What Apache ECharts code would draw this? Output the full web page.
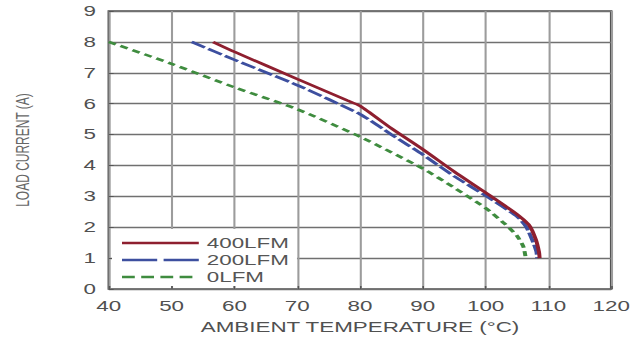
<!DOCTYPE html>
<html><head><meta charset="utf-8">
<script src="https://cdn.jsdelivr.net/npm/echarts/dist/echarts.min.js"></script>
<style>
html,body{margin:0;padding:0;background:#fff;overflow:hidden;width:640px;height:360px}
#c{width:400px;height:360px;transform:scaleX(1.6);transform-origin:0 0}
</style>
</head><body><div id="c"></div>
<script>
// Data
const xTicks = [40, 50, 60, 70, 80, 90, 100, 110, 120];
const yTicks = [0, 1, 2, 3, 4, 5, 6, 7, 8, 9];
const seriesNames = ['400LFM', '200LFM', '0LFM'];

const temp400 = [56.6, 60, 70, 78, 80, 85, 90, 95, 100, 105, 107, 108, 108.5, 108.6];
const load400 = [8.0, 7.68, 6.8, 6.1, 5.93, 5.2, 4.52, 3.8, 3.12, 2.42, 2.05, 1.6, 1.2, 1.0];

const temp200 = [53.2, 60, 70, 80, 85, 90, 95, 100, 105, 106.5, 107.6, 108.1, 108.2];
const load200 = [8.0, 7.42, 6.6, 5.66, 5.0, 4.35, 3.65, 3.02, 2.35, 2.0, 1.5, 1.2, 1.0];

const temp0 = [40, 50, 60, 70, 80, 90, 95, 100, 103, 105, 106, 106.4];
const load0 = [8.0, 7.29, 6.53, 5.82, 4.93, 3.9, 3.28, 2.62, 2.12, 1.72, 1.38, 1.0];

function pairs(xs, ys) { return xs.map((x, i) => [x, ys[i]]); }

const chart = echarts.init(document.getElementById('c'), null, {renderer: 'svg'});
const FONT = 'Liberation Sans, Arial, sans-serif';
const hidden = {color: 'rgba(0,0,0,0)', borderColor: 'rgba(0,0,0,0)', borderWidth: 0, opacity: 0};
chart.setOption({
  animation: false,
  backgroundColor: '#fff',
  grid: {left: 68, right: 18, top: 11, bottom: 71, show: true,
         borderColor: '#505050', borderWidth: 1.6, backgroundColor: 'transparent'},
  xAxis: {
    type: 'value', min: xTicks[0], max: xTicks[xTicks.length - 1], interval: 10,
    axisLine: {show: false},
    axisTick: {show: true, inside: true, length: 3, lineStyle: {color: '#555'}},
    axisLabel: {color: '#505050', fontSize: 14, fontFamily: FONT, margin: 10},
    splitLine: {show: true, lineStyle: {color: '#9c9c9c', width: 1.3}},
    name: 'AMBIENT TEMPERATURE (°C)', nameLocation: 'middle', nameGap: 31,
    nameTextStyle: {color: '#505050', fontSize: 14, fontFamily: FONT}
  },
  yAxis: {
    type: 'value', min: yTicks[0], max: yTicks[yTicks.length - 1], interval: 1,
    axisLine: {show: false},
    axisTick: {show: true, inside: true, length: 3, lineStyle: {color: '#555'}},
    axisLabel: {color: '#505050', fontSize: 14, fontFamily: FONT, margin: 8},
    splitLine: {show: true, lineStyle: {color: '#707070', width: 1.3}},
    name: 'LOAD CURRENT (A)', nameLocation: 'middle', nameGap: 48,
    nameTextStyle: {color: '#666', fontSize: 12, fontFamily: FONT}
  },
  legend: {
    orient: 'vertical', left: 70, top: 229, padding: [7, 5, 2, 5],
    backgroundColor: '#fff', itemWidth: 48, itemHeight: 14, itemGap: 3,
    textStyle: {color: '#555', fontSize: 14, fontFamily: FONT},
    itemStyle: hidden,
    data: [
      {name: seriesNames[0], itemStyle: hidden, lineStyle: {color: '#8e1f2f', width: 2.5, type: 'solid'}},
      {name: seriesNames[1], itemStyle: hidden, lineStyle: {color: '#3d4f9f', width: 2.5, type: [22, 4]}},
      {name: seriesNames[2], itemStyle: hidden, lineStyle: {color: '#3f8c3f', width: 2.5, type: [8, 4]}}
    ]
  },
  series: [
    {type: 'line', name: seriesNames[2], data: pairs(temp0, load0), symbol: 'none', smooth: 0.2,
     lineStyle: {color: '#3f8c3f', width: 2.5, type: [5, 3.5]}, itemStyle: {color: '#3f8c3f'}},
    {type: 'line', name: seriesNames[1], data: pairs(temp200, load200), symbol: 'none', smooth: 0.2,
     lineStyle: {color: '#3d4f9f', width: 2.5, type: [10, 2.5]}, itemStyle: {color: '#3d4f9f'}},
    {type: 'line', name: seriesNames[0], data: pairs(temp400, load400), symbol: 'none', smooth: 0.2,
     lineStyle: {color: '#8e1f2f', width: 2.5}, itemStyle: {color: '#8e1f2f'}}
  ]
});
</script></body></html>
